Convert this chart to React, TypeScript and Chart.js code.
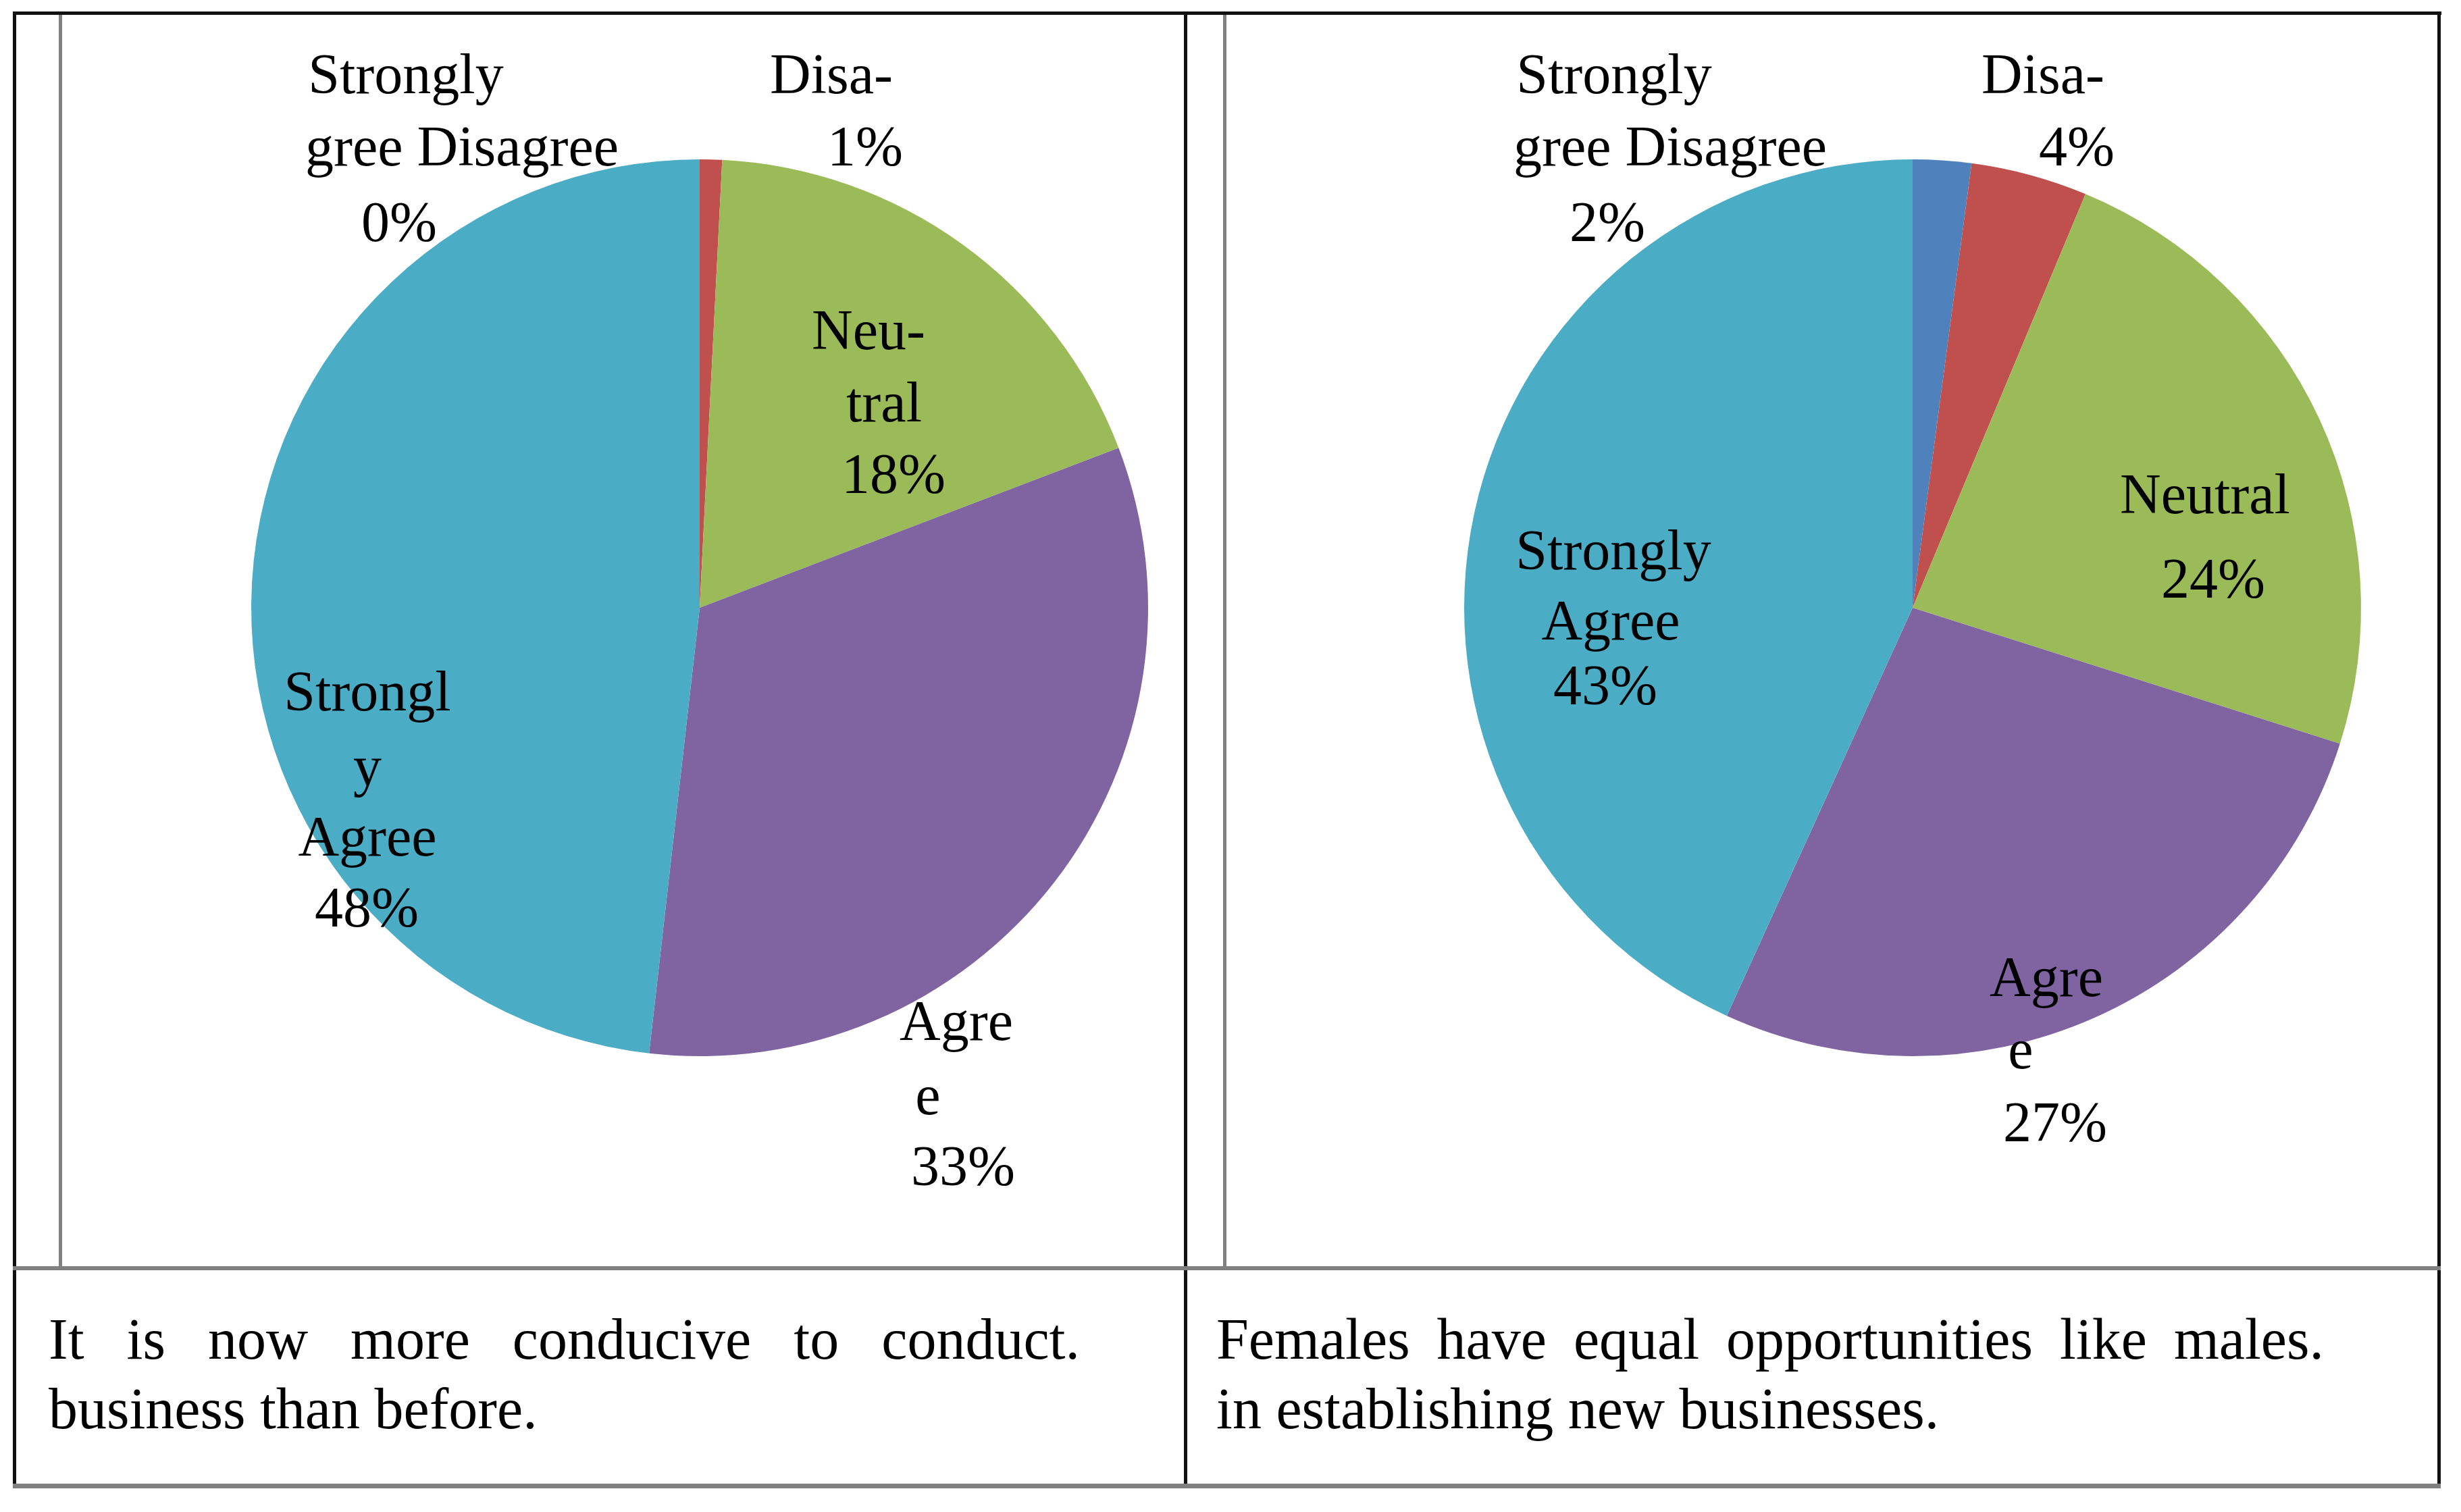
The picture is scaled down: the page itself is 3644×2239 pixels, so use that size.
import React, { useEffect, useRef } from "react";
import { Chart, registerables } from "chart.js";

Chart.register(...registerables);

// ---------- data ----------
const categories = ["Strongly Disagree", "Disagree", "Neutral", "Agree", "Strongly Agree"];
const conduciveValues = [0, 0.8, 18.4, 32.6, 48.2];
const equalOppValues = [2.1, 4.2, 23.6, 26.9, 43.2];
const sliceColors = ["#4F81BD", "#C0504D", "#9BBB59", "#8064A2", "#4BACC6"];

// wrapped label text as shown on the chart (percentage line is computed)
const conduciveLabelLines = [["Strongly", "gree Disagree"], ["Disa-"], ["Neu-", "tral"], ["Agre", "e"], ["Strongl", "y", "Agree"]];
const equalOppLabelLines = [["Strongly", "gree Disagree"], ["Disa-"], ["Neutral"], ["Agre", "e"], ["Strongly", "Agree"]];

const conduciveCaption = ["It is now more conducive to conduct.", "business than before."];
const equalOppCaption = ["Females have equal opportunities like males.", "in establishing new businesses."];

// ---------- label placement (offsets from pie centre, in units of REF_R) ----------
const REF_R = 664;
const conducivePlacement = [
  [[-435, -762], [-352, -655], [-445, -543]],
  [[195, -762], [245, -655]],
  [[250, -383], [273, -276], [287, -170]],
  [[380, 640], [338, 750], [390, 855]],
  [[-492, 152], [-492, 263], [-492, 367], [-493, 472]],
];
const equalOppPlacement = [
  [[-442, -762], [-359, -655], [-452, -543]],
  [[193, -762], [243, -655]],
  [[433, -140], [445, -15]],
  [[198, 575], [160, 682], [211, 790]],
  [[-443, -57], [-447, 47], [-455, 143]],
];

const FONT = '"Liberation Serif", "DejaVu Serif", serif';

const sliceLabelPlugin = {
  id: "sliceLabels",
  afterDatasetsDraw(chart: any, _args: any, opts: any) {
    const meta = chart.getDatasetMeta(0);
    const values = chart.data.datasets[0].data as number[];
    const total = values.reduce((a, b) => a + b, 0);
    const ctx = chart.ctx as CanvasRenderingContext2D;
    ctx.save();
    ctx.font = `${opts.fontSize}px ${FONT}`;
    ctx.fillStyle = "#000";
    ctx.textAlign = "center";
    ctx.textBaseline = "alphabetic";
    meta.data.forEach((arc: any, i: number) => {
      const { x, y, outerRadius } = arc.getProps(["x", "y", "outerRadius"], true);
      const k = outerRadius / REF_R;
      const lines = [...opts.lines[i], Math.round((values[i] / total) * 100) + "%"];
      lines.forEach((t: string, j: number) => {
        const p = opts.placement[i][j];
        ctx.fillText(t, x + p[0] * k, y + p[1] * k);
      });
    });
    ctx.restore();
  },
};

type PieProps = {
  left: number;
  top: number;
  width: number;
  height: number;
  padding: { left: number; right: number; top: number; bottom: number };
  values: number[];
  lines: string[][];
  placement: number[][][];
};

function PieCell(props: PieProps) {
  const ref = useRef<HTMLCanvasElement | null>(null);
  useEffect(() => {
    if (!ref.current) return;
    const chart = new Chart(ref.current, {
      type: "pie",
      data: {
        labels: categories,
        datasets: [
          {
            data: props.values,
            backgroundColor: sliceColors,
            borderWidth: 0,
          },
        ],
      },
      options: {
        responsive: false,
        animation: false,
        devicePixelRatio: 1,
        layout: { padding: props.padding },
        plugins: {
          legend: { display: false },
          tooltip: { enabled: false },
          sliceLabels: { lines: props.lines, placement: props.placement, fontSize: 84 },
        } as any,
      },
      plugins: [sliceLabelPlugin],
    });
    return () => chart.destroy();
  }, []);
  return (
    <canvas
      ref={ref}
      width={props.width}
      height={props.height}
      style={{ position: "absolute", left: props.left, top: props.top, width: props.width, height: props.height }}
    />
  );
}

function Line(p: { x: number; y: number; w: number; h: number; c: string }) {
  return <div style={{ position: "absolute", left: p.x, top: p.y, width: p.w, height: p.h, background: p.c }} />;
}

function Caption(p: { x: number; w: number; lines: string[] }) {
  const base: React.CSSProperties = {
    position: "absolute",
    left: p.x,
    width: p.w,
    fontFamily: FONT,
    fontSize: 86,
    lineHeight: "103px",
    color: "#000",
    whiteSpace: "nowrap",
  };
  return (
    <>
      <div style={{ ...base, top: 1932, textAlign: "justify", textAlignLast: "justify", whiteSpace: "normal" }}>{p.lines[0]}</div>
      <div style={{ ...base, top: 2035 }}>{p.lines[1]}</div>
    </>
  );
}

export default function App() {
  const black = "#111";
  const gray = "#808080";
  return (
    <div style={{ position: "absolute", left: 0, top: 0, width: 3644, height: 2239, background: "#fff", overflow: "hidden" }}>
      <PieCell
        left={92}
        top={24}
        width={1660}
        height={1850}
        padding={{ left: 280, right: 52, top: 212, bottom: 310 }}
        values={conduciveValues}
        lines={conduciveLabelLines}
        placement={conducivePlacement}
      />
      <PieCell
        left={1816}
        top={24}
        width={1792}
        height={1850}
        padding={{ left: 352, right: 112, top: 212, bottom: 310 }}
        values={equalOppValues}
        lines={equalOppLabelLines}
        placement={equalOppPlacement}
      />
      <Caption x={72} w={1527} lines={conduciveCaption} />
      <Caption x={1801} w={1640} lines={equalOppCaption} />
      {/* table lines */}
      <Line x={19} y={17} w={3596} h={5} c={black} />
      <Line x={19} y={17} w={5} h={2187} c={black} />
      <Line x={1753} y={17} w={5} h={2187} c={black} />
      <Line x={3609} y={17} w={5} h={2187} c={black} />
      <Line x={87} y={22} w={5} h={1854} c={gray} />
      <Line x={1811} y={22} w={5} h={1854} c={gray} />
      <Line x={19} y={1875} w={3595} h={6} c={gray} />
      <Line x={19} y={2197} w={3595} h={7} c={gray} />
    </div>
  );
}
